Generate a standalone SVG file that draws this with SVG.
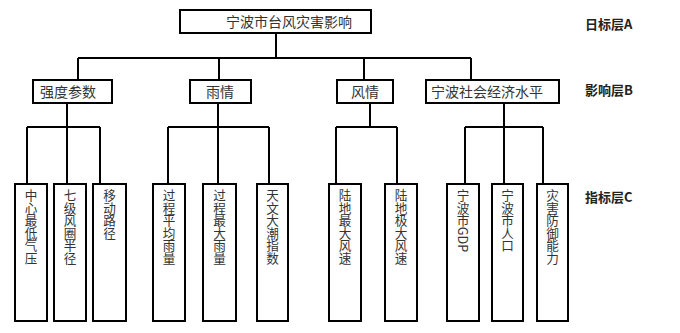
<svg xmlns="http://www.w3.org/2000/svg" width="680" height="333" viewBox="0 0 680 333">
<style>
.box{fill:#fff;stroke:#000;stroke-width:2}
.ln{fill:none;stroke:#000;stroke-width:2}
.t{font-family:"Noto Sans CJK SC","Liberation Sans",sans-serif;font-size:14px;fill:#333;text-anchor:middle}
.v{font-family:"Noto Sans CJK SC","Liberation Sans",sans-serif;font-size:12.6px;fill:#333;writing-mode:vertical-rl;text-anchor:start}
.lab{font-family:"Noto Sans CJK SC","Liberation Sans",sans-serif;font-size:13px;font-weight:bold;fill:#222}
</style>
<rect width="680" height="333" fill="#fff"/>
<g id="connectors">
<path class="ln" d="M276,33V58M78,58H471M78,58V80M219,58V80M364,58V80M471,58V80"/>
<path class="ln" d="M67,103V127M27,127H100M27,127V184M67,127V184M100,127V184"/>
<path class="ln" d="M218,103V127M168,127H269M168,127V184M218,127V184M269,127V184"/>
<path class="ln" d="M370,103V127M336,127H397M336,127V184M397,127V184"/>
<path class="ln" d="M504,103V184M465,127H543M465,127V184M543,127V184"/>
</g>
<g id="A"><rect class="box" x="180" y="10" width="191" height="23"/><text class="t" x="289" y="27">宁波市台风灾害影响</text></g>
<g id="B1"><rect class="box" x="33" y="80" width="79" height="23"/><text class="t" x="68" y="97">强度参数</text></g>
<g id="B2"><rect class="box" x="190" y="80" width="61" height="23"/><text class="t" x="220" y="97">雨情</text></g>
<g id="B3"><rect class="box" x="337" y="80" width="56" height="23"/><text class="t" x="365" y="97">风情</text></g>
<g id="B4"><rect class="box" x="426" y="80" width="133" height="23"/><text class="t" x="487" y="97">宁波社会经济水平</text></g>
<g id="C1"><rect class="box" x="15" y="184" width="32" height="137"/><text class="v" x="31" y="189">中心最低气压</text></g>
<g id="C2"><rect class="box" x="54" y="184" width="32" height="137"/><text class="v" x="70" y="189">七级风圈半径</text></g>
<g id="C3"><rect class="box" x="93" y="184" width="33" height="137"/><text class="v" x="109.5" y="189">移动路径</text></g>
<g id="C4"><rect class="box" x="153" y="184" width="32" height="137"/><text class="v" x="169" y="189">过程平均雨量</text></g>
<g id="C5"><rect class="box" x="203" y="184" width="33" height="137"/><text class="v" x="219.5" y="189">过程最大雨量</text></g>
<g id="C6"><rect class="box" x="257" y="184" width="31" height="137"/><text class="v" x="272.5" y="189">天文大潮指数</text></g>
<g id="C7"><rect class="box" x="329" y="184" width="32" height="137"/><text class="v" x="345" y="189">陆地最大风速</text></g>
<g id="C8"><rect class="box" x="385" y="184" width="32" height="137"/><text class="v" x="401" y="189">陆地极大风速</text></g>
<g id="C9"><rect class="box" x="447" y="184" width="32" height="137"/><text class="v" x="463" y="189">宁波市GDP</text></g>
<g id="C10"><rect class="box" x="492" y="184" width="31" height="137"/><text class="v" x="507.5" y="189">宁波市人口</text></g>
<g id="C11"><rect class="box" x="537" y="184" width="31" height="137"/><text class="v" x="552.5" y="189">灾害防御能力</text></g>
<g id="labels">
<text class="lab" x="585" y="29">日标层A</text>
<text class="lab" x="585" y="95">影响层B</text>
<text class="lab" x="585" y="202">指标层C</text>
</g>
</svg>
